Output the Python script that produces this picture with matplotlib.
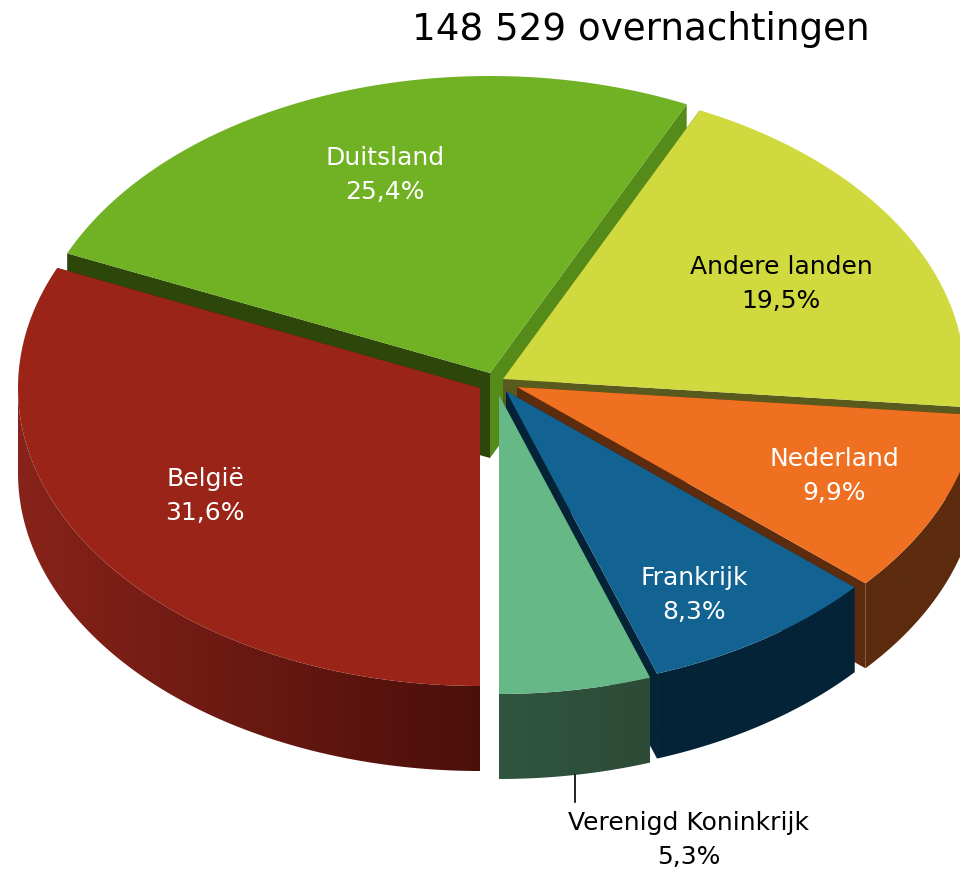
import numpy as np
import matplotlib
matplotlib.use("Agg")
import matplotlib.pyplot as plt
from matplotlib.patches import Polygon

# data, clockwise from the bottom of the pie
landen = ['België', 'Duitsland', 'Andere landen', 'Nederland', 'Frankrijk', 'Verenigd Koninkrijk']
aandeel = [31.6, 25.4, 19.5, 9.9, 8.3, 5.3]
aandeel_tekst = ['31,6%', '25,4%', '19,5%', '9,9%', '8,3%', '5,3%']
titel = '148 529 overnachtingen'

# styling per slice
midden = [(480, 389), (490, 374), (503, 380), (517, 388), (506, 392), (499, 396)]
straal_y = [298, 297, 297, 299, 299, 299]
kleur_top = ['#9b2418', '#70b224', '#d0da3e', '#ee7020', '#126292', '#66b987']
kleur_wand_links = ['#87231a', '#2d460a', '#585a1e', '#5d2b0d', '#052337', '#2f5540']
kleur_wand_rechts = ['#4b0f0a', '#558c19', '#585a1e', '#5d2b0d', '#052337', '#2d4b37']
kleur_tekst = ['white', 'white', 'black', 'white', 'white', 'black']
tekst_pos = [(205, 496), (385, 175), (781, 284), (834, 476), (694, 595), (689, 840)]
volgorde = [1, 0, 2, 3, 4, 5]

RX = 462
DIEPTE = 85


# Function to draw one slice: side walls first, the top on top of them
def draw_slice(ax, i, t1, t2, z):
    cx, cy = midden[i]
    t = np.radians(np.linspace(t1, t2, 300))
    x = cx + RX * np.cos(t)
    y = cy - straal_y[i] * np.sin(t)

    # the two straight walls
    ax.fill([cx, x[0], x[0], cx], [cy, y[0], y[0] + DIEPTE, cy + DIEPTE],
            color=kleur_wand_links[i], lw=0, zorder=z)
    ax.fill([cx, x[-1], x[-1], cx], [cy, y[-1], y[-1] + DIEPTE, cy + DIEPTE],
            color=kleur_wand_rechts[i], lw=0, zorder=z)

    # the curved outer wall with a left to right gradient
    voor = np.sin(t) <= 0
    if voor.sum() > 1:
        xv = x[voor]
        yv = y[voor]
        c1 = matplotlib.colors.to_rgb(kleur_wand_links[i])
        c2 = matplotlib.colors.to_rgb(kleur_wand_rechts[i])
        verloop = np.linspace(c1, c2, 256)[None, :, :]
        im = ax.imshow(verloop, extent=(xv.min(), xv.max(), yv.max() + DIEPTE, yv.min()),
                       aspect='auto', interpolation='bilinear', zorder=z + 0.2)
        rand = Polygon(np.c_[np.r_[xv, xv[::-1]], np.r_[yv, yv[::-1] + DIEPTE]],
                       transform=ax.transData, fc='none', ec='none')
        im.set_clip_path(rand)

    ax.fill(np.r_[cx, x], np.r_[cy, y], color=kleur_top[i], lw=0, zorder=z + 0.5)


fig = plt.figure(figsize=(9.6, 8.7), dpi=100)
ax = fig.add_axes([0, 0, 1, 1])
ax.axis('off')

hoeken = 270 - np.cumsum([0] + aandeel) * 3.6
for n, i in enumerate(volgorde):
    draw_slice(ax, i, hoeken[i], hoeken[i + 1], n + 1)

ax.set_xlim(0, 960)
ax.set_ylim(870, 0)

# leader line of the smallest slice
ax.plot([574.5, 574.5], [776, 803], color='black', lw=1.2, zorder=10)

for i in range(len(landen)):
    ax.text(tekst_pos[i][0], tekst_pos[i][1], landen[i] + '\n' + aandeel_tekst[i],
            color=kleur_tekst[i], fontsize=18, ha='center', va='center',
            linespacing=1.52, zorder=11)

ax.text(641, 29, titel, color='black', fontsize=26.8, ha='center', va='center', zorder=11)

fig.savefig('out.png', dpi=100)
